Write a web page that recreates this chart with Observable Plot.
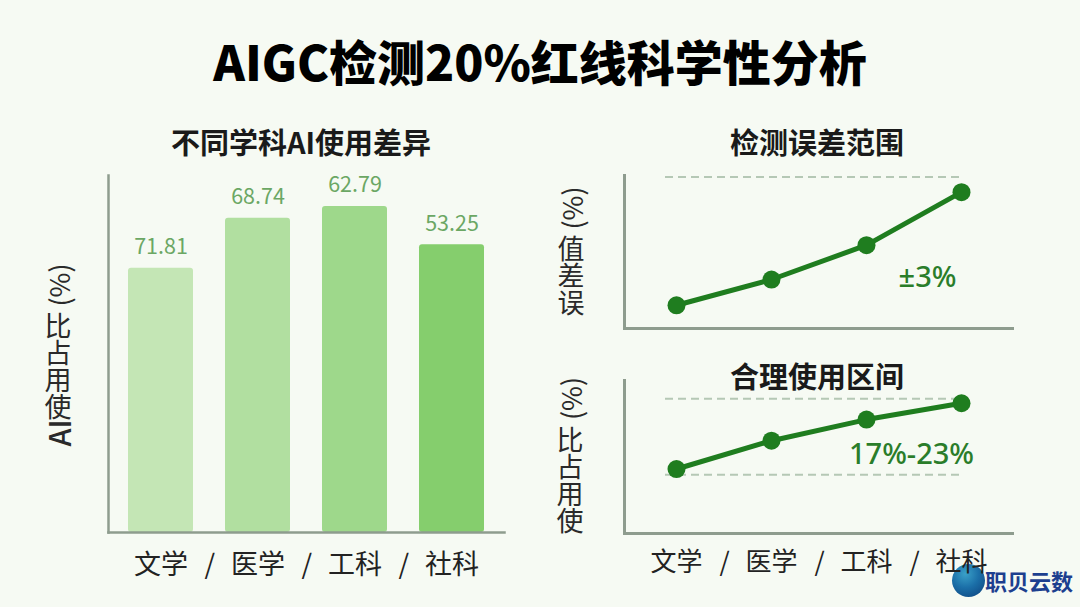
<!DOCTYPE html>
<html><head><meta charset="utf-8">
<script src="https://cdn.jsdelivr.net/npm/d3@7"></script>
<script src="https://cdn.jsdelivr.net/npm/@observablehq/plot@0.6"></script>
<style>
html,body{margin:0;padding:0;background:#f6faf3;}
#root{position:relative;width:1080px;height:607px;overflow:hidden;font-family:"Noto Sans CJK SC","Noto Sans",sans-serif;color:#222;background:#f6faf3;}
.abs{position:absolute;}
.title{left:0;width:1080px;top:30px;text-align:center;font-size:48px;font-weight:900;line-height:60px;color:#000;letter-spacing:0px;}
.sub{font-size:29px;font-weight:700;line-height:34px;transform:translate(-50%,-50%);white-space:nowrap;color:#1a1a1a;}
.vlab{display:flex;flex-direction:column;align-items:center;font-size:27px;line-height:1;transform:translate(-50%,-50%);color:#2a2a2a;}
.vlab span{display:block;}
.vlab .r{writing-mode:vertical-rl;text-orientation:sideways;transform:rotate(180deg);}
.vlab .gap{height:5px;}
.logo{left:952px;top:564px;width:33px;height:33px;border-radius:50%;background:radial-gradient(circle at 40% 30%,#3aa0c8 0%,#1b6fa8 45%,#0c3f7a 100%);}
.logotext{left:985px;top:566px;font-size:22px;font-weight:700;color:#1d3f8f;line-height:28px;}
svg{overflow:visible;}
</style></head>
<body>
<div id="root"></div>
<script>
// ---- data ----
const subjects = ["文学", "医学", "工科", "社科"];
const barLabels = ["71.81", "68.74", "62.79", "53.25"];
const barHeights = [74.0, 88.0, 91.3, 80.6];
const barColors = ["#c4e6b5", "#b1dfa0", "#9ed88b", "#85ce6d"];
const errorValues = [0.46, 0.97, 1.65, 2.70];
const errorLimit = [3];
const errorNote = "±3%";
const errorNoteY = 1.0;
const usageValues = [17.45, 19.69, 21.36, 22.65];
const usageBounds = [17, 23];
const usageNote = "17%-23%";
const usageNoteY = 18.6;

const FONT = '"Noto Sans CJK SC","Noto Sans",sans-serif';
const NOTEFONT = '"Noto Sans","Noto Sans CJK SC",sans-serif';
const AXIS = "#8e9c8e";
const LINE = "#1f7d1f";
const DASH = "#b5c8b5";

const root = document.getElementById("root");
function add(html) { root.insertAdjacentHTML("beforeend", html); }
function place(el, left, top) { el.style.position = "absolute"; el.style.left = left + "px"; el.style.top = top + "px"; root.appendChild(el); }

add('<div class="abs title">AIGC检测20%红线科学性分析</div>');
add('<div class="abs sub" style="left:301px;top:141px">不同学科AI使用差异</div>');
add('<div class="abs sub" style="left:817px;top:141px">检测误差范围</div>');
add('<div class="abs sub" style="left:817px;top:375px">合理使用区间</div>');
add('<div class="abs vlab" style="left:58px;top:355px"><span class="r">(%)</span><span class="gap"></span><span>比</span><span>占</span><span>用</span><span>使</span><span class="r" style="font-weight:500;font-size:29px">AI</span></div>');
add('<div class="abs vlab" style="left:571px;top:251px"><span class="r">(%)</span><span class="gap"></span><span>值</span><span>差</span><span>误</span></div>');
add('<div class="abs vlab" style="left:570px;top:455px"><span class="r">(%)</span><span class="gap"></span><span>比</span><span>占</span><span>用</span><span>使</span></div>');
add('<div class="abs logo"></div><div class="abs logotext">职贝云数</div>');

// ---- left bar chart ----
const bars = subjects.map((s, i) => ({subject: s, h: barHeights[i], label: barLabels[i], color: barColors[i]}));
const LW = 406, LML = 8, LMR = 2, PI = 0.335, PO = 0.195;
const lStep = (LW - LML - LMR) / (subjects.length - PI + 2 * PO);
const leftPlot = Plot.plot({
  width: LW, height: 425, marginLeft: LML, marginRight: LMR, marginTop: 15, marginBottom: 53,
  style: {background: "transparent", fontFamily: FONT, overflow: "visible"},
  x: {domain: subjects, paddingInner: PI, paddingOuter: PO, axis: null},
  y: {domain: [0, 100], axis: null},
  color: {type: "identity"},
  marks: [
    Plot.barY(bars, {x: "subject", y: "h", fill: "color", rx: 3}),
    Plot.text(bars, {x: "subject", y: "h", text: "label", dy: -21, fontSize: 21.5, fill: "#6ba764"}),
    Plot.text(bars, {x: "subject", text: "subject", frameAnchor: "bottom", dy: 41, fontSize: 27, fill: "#222"}),
    Plot.text(bars.slice(0, -1), {x: "subject", text: () => "/", frameAnchor: "bottom", dy: 41, dx: lStep / 2, fontSize: 27, fill: "#222"}),
    Plot.frame({anchor: "bottom", stroke: AXIS, strokeWidth: 2.5}),
    Plot.frame({anchor: "left", stroke: AXIS, strokeWidth: 2.5})
  ]
});
place(leftPlot, 100, 160);

// ---- right line charts ----
const RW = 420, RML = 24, RMR = 8, PP = 0.521;
const rStep = (RW - RML - RMR) / (subjects.length - 1 + 2 * PP);
function linePlot({values, domain, height, mb, rules, note, noteY, noteDx, labels}) {
  const pts = subjects.map((s, i) => ({subject: s, v: values[i]}));
  const marks = [
    Plot.ruleY(rules, {stroke: DASH, strokeWidth: 2, strokeDasharray: "8,5", insetLeft: 41, insetRight: 49}),
    Plot.line(pts, {x: "subject", y: "v", stroke: LINE, strokeWidth: 5}),
    Plot.dot(pts, {x: "subject", y: "v", r: 9, fill: LINE}),
    Plot.text([note], {x: () => subjects[subjects.length - 1], y: () => noteY, dx: noteDx, text: d => d, fontSize: 29, fontWeight: 500, fill: "#2a7d2a", fontFamily: NOTEFONT}),
    Plot.frame({anchor: "bottom", stroke: AXIS, strokeWidth: 3}),
    Plot.frame({anchor: "left", stroke: AXIS, strokeWidth: 3})
  ];
  if (labels) {
    marks.push(Plot.text(subjects, {x: d => d, text: d => d, frameAnchor: "bottom", dy: 37, fontSize: 26, fill: "#222"}));
    marks.push(Plot.text(subjects.slice(0, -1), {x: d => d, text: () => "/", frameAnchor: "bottom", dy: 37, dx: rStep / 2, fontSize: 26, fill: "#222"}));
  }
  return Plot.plot({
    width: RW, height, marginLeft: RML, marginRight: RMR, marginTop: 10, marginBottom: mb,
    style: {background: "transparent", fontFamily: FONT, overflow: "visible"},
    x: {type: "point", domain: subjects, padding: PP, axis: null},
    y: {domain, axis: null},
    marks
  });
}
place(linePlot({values: errorValues, domain: [0, 3.03], height: 175, mb: 12, rules: errorLimit, note: errorNote, noteY: errorNoteY, noteDx: -34, labels: false}), 600, 165);
place(linePlot({values: usageValues, domain: [12.35, 24.45], height: 215, mb: 52, rules: usageBounds, note: usageNote, noteY: usageNoteY, noteDx: -50, labels: true}), 600, 370);
</script>
</body></html>
